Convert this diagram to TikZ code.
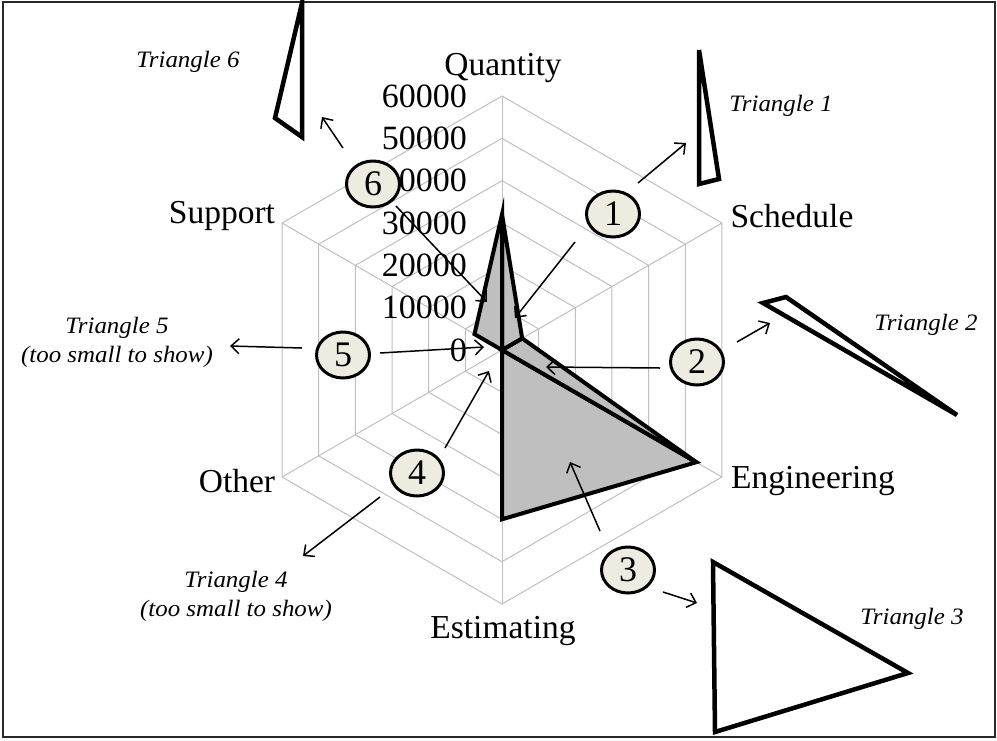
\documentclass[tikz,border=0pt]{standalone}
\usepackage{fontspec}
\setmainfont{Liberation Serif}
\newfontfamily\trifont[FakeStretch=1.06]{Liberation Serif}
\usetikzlibrary{arrows.meta,shapes.geometric,calc}
\definecolor{gridgray}{RGB}{192,192,192}
\definecolor{datagray}{RGB}{191,191,191}
\definecolor{badgefill}{RGB}{238,236,225}
\definecolor{framecol}{RGB}{40,40,40}
\begin{document}
\begin{tikzpicture}[x=1pt,y=-1pt,
  gridline/.style={draw=gridgray, line width=1pt},
  tri/.style={draw=black, line width=4pt, line join=miter, fill=datagray},
  outtri/.style={draw=black, line width=4.5pt, line join=miter, fill=white},
  axislab/.style={font=\fontsize{33.5}{38}\selectfont, inner sep=0pt},
  ticklab/.style={font=\fontsize{34}{38}\selectfont, inner sep=0pt, anchor=east},
  trilab/.style={font=\trifont\fontsize{23.5}{29}\selectfont\itshape, inner sep=0pt, align=center},
  badge/.style={ellipse, draw=black, line width=3pt, fill=badgefill, minimum width=53pt, minimum height=46pt, inner sep=0pt, font=\fontsize{36}{40}\selectfont},
  callout/.style={draw=black, line width=1.5pt, -{Straight Barb[length=8pt,width=15pt,line width=1.5pt]}},
]
\useasboundingbox (0,0) rectangle (997,740);
\fill[white] (0,0) rectangle (997,740);
\draw[line width=2pt, draw=framecol] (3,1.5) rectangle (995,737);

% radar grid
\begin{scope}[shift={(502,350)}]
  \foreach \k in {1,...,6} {
    \draw[gridline] (-90:{\k*42.333}) -- (-30:{\k*42.333}) -- (30:{\k*42.333}) -- (90:{\k*42.333}) -- (150:{\k*42.333}) -- (210:{\k*42.333}) -- cycle;
  }
  \foreach \a in {-90,-30,30,90,150,210} {
    \draw[gridline] (0,0) -- (\a:254);
  }
  \coordinate (pC) at (0,0);
  \coordinate (pQ) at (-90:135.5);
  \coordinate (pS) at (-30:23.3);
  \coordinate (pE) at (30:224.4);
  \coordinate (pEst) at (90:169.3);
  \coordinate (pSup) at (210:31.75);
\end{scope}

% data triangles
\draw[tri] (pC) -- (pE) -- (pEst) -- cycle;
\draw[tri] (pC) -- (pS) -- (pE) -- cycle;
\draw[tri] (pC) -- (pQ) -- (pS) -- cycle;
\draw[tri] (pC) -- (pSup) -- (pQ) -- cycle;

% tick labels
\foreach \v [count=\i from 0] in {0,10000,20000,30000,40000,50000,60000} {
  \node[ticklab] (t\i) at (467,{350-\i*42.333}) {\v};
}

% axis labels
\node[axislab] (lQ) at (503,68) {Quantity};
\node[axislab] (lS) at (792,216) {Schedule};
\node[axislab] (lE) at (813,481) {Engineering};
\node[axislab] (lEst) at (503,631) {Estimating};
\node[axislab] (lO) at (237,481) {Other};
\node[axislab] (lSup) at (222,216) {Support};

% outside triangles
\draw[outtri] (699,50) -- (719,179) -- (699,184) -- cycle;
\draw[outtri] (763,303) -- (786,297) -- (957,415) -- cycle;
\draw[outtri] (713,562) -- (908,673) -- (715,732) -- cycle;
\draw[outtri] (302,3) -- (302,137) -- (275,118) -- cycle;

% triangle labels
\node[trilab] (tl1) at (781,106) {Triangle 1};
\node[trilab] (tl2) at (926,325) {Triangle 2};
\node[trilab] (tl3) at (912,619) {Triangle 3};
\node[trilab] (tl4) at (236,596) {Triangle 4\\(too small to show)};
\node[trilab] (tl5) at (117,342) {Triangle 5\\(too small to show)};
\node[trilab] (tl6) at (188,62) {Triangle 6};

% badges
\node[badge] (b1) at (613,214) {1};
\node[badge] (b2) at (697,362) {2};
\node[badge] (b3) at (628,570) {3};
\node[badge] (b4) at (417,473) {4};
\node[badge] (b5) at (343,355) {5};
\node[badge] (b6) at (373,184) {6};

% callout arrow ends
\coordinate (a1s) at (575,242); \coordinate (a1e) at (515,318);
\coordinate (a1bs) at (638,183); \coordinate (a1be) at (686,143);
\coordinate (a2s) at (660,368); \coordinate (a2e) at (546,367);
\coordinate (a2bs) at (737,342); \coordinate (a2be) at (770,323);
\coordinate (a3s) at (600,531); \coordinate (a3e) at (570,462);
\coordinate (a3bs) at (663,592); \coordinate (a3be) at (697,603);
\coordinate (a4s) at (445,448); \coordinate (a4e) at (489,371);
\coordinate (a4bs) at (380,497); \coordinate (a4be) at (303,556);
\coordinate (a5s) at (380,353); \coordinate (a5e) at (484,347);
\coordinate (a5bs) at (302,348); \coordinate (a5be) at (230,346);
\coordinate (a6s) at (396,206); \coordinate (a6e) at (487,302);
\coordinate (a6bs) at (343,148); \coordinate (a6be) at (322,117);

\draw[callout] (a1s) -- (a1e);
\draw[callout] (a1bs) -- (a1be);
\draw[callout] (a2s) -- (a2e);
\draw[callout] (a2bs) -- (a2be);
\draw[callout] (a3s) -- (a3e);
\draw[callout] (a3bs) -- (a3be);
\draw[callout] (a4s) -- (a4e);
\draw[callout] (a4bs) -- (a4be);
\draw[callout] (a5s) -- (a5e);
\draw[callout] (a5bs) -- (a5be);
\draw[callout] (a6s) -- (a6e);
\draw[callout] (a6bs) -- (a6be);
\end{tikzpicture}
\end{document}
